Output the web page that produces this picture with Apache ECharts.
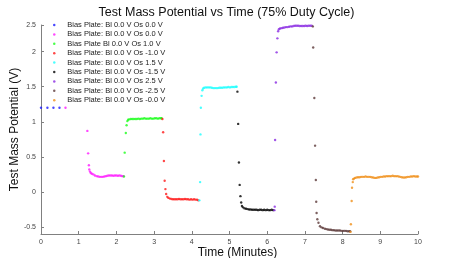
<!DOCTYPE html>
<html>
<head>
<meta charset="utf-8">
<script src="https://cdn.jsdelivr.net/npm/echarts@6/dist/echarts.min.js"></script>
<style>html,body{margin:0;padding:0;background:#fff}#c{width:453px;height:258px}</style>
</head>
<body>
<div id="c"></div>
<script>
var seriesNames = [
  'Bias Plate: Bl 0.0 V Os 0.0 V',
  'Bias Plate: Bl 0.0 V Os 0.0 V ',
  'Bias Plate Bl 0.0 V Os 1.0 V',
  'Bias Plate: Bl 0.0 V Os -1.0 V',
  'Bias Plate: Bl 0.0 V Os 1.5 V',
  'Bias Plate: Bl 0.0 V Os -1.5 V',
  'Bias Plate: Bl 0.0 V Os 2.5 V',
  'Bias Plate: Bl 0.0 V Os -2.5 V',
  'Bias Plate: Bl 0.0 V Os -0.0 V'
];
var seriesColors = ['#1a1aff','#ff1aff','#1aff1a','#ff1a1a','#1affff','#000000','#8a2be2','#5c3a3a','#f0901a'];

var xTicks = [0,1,2,3,4,5,6,7,8,9,10];
var yTickValues = [-0.5,0,0.5,1,1.5,2,2.38];
var yTickLabels = ['-0.5','0','0.5','1','1.5','2','2.5'];

var blueData = [[0.0,1.2],[0.17,1.2],[0.33,1.2],[0.49,1.2]];
var magentaData = [[0.65,1.2],[1.23,0.87],[1.25,0.55],[1.27,0.38],[1.28,0.32],[1.30,0.29],[1.32,0.27],[1.35,0.26],[1.39,0.25],[1.43,0.235],[1.48,0.225],[1.52,0.22],[1.56,0.215],[1.60,0.215],[1.64,0.215],[1.68,0.22],[1.72,0.225],[1.76,0.23],[1.80,0.235],[1.84,0.235],[1.88,0.235],[1.92,0.23],[1.96,0.235],[2.00,0.235],[2.04,0.23],[2.08,0.235],[2.12,0.23],[2.16,0.225],[2.19,0.225]];
var greenData = [[2.20,0.22],[2.22,0.56],[2.25,0.84],[2.27,0.95],[2.29,1.01],[2.31,1.03],[2.34,1.035],[2.38,1.04],[2.42,1.04],[2.46,1.04],[2.50,1.04],[2.54,1.04],[2.58,1.045],[2.62,1.04],[2.66,1.045],[2.70,1.045],[2.74,1.05],[2.78,1.045],[2.82,1.045],[2.86,1.045],[2.90,1.05],[2.94,1.045],[2.98,1.045],[3.02,1.05],[3.06,1.05],[3.10,1.045],[3.14,1.05],[3.18,1.05],[3.20,1.05]];
var redData = [[3.22,1.04],[3.24,0.85],[3.26,0.44],[3.28,0.16],[3.30,0.04],[3.32,-0.03],[3.35,-0.07],[3.38,-0.085],[3.42,-0.095],[3.46,-0.10],[3.50,-0.105],[3.54,-0.105],[3.58,-0.105],[3.62,-0.105],[3.66,-0.10],[3.70,-0.105],[3.74,-0.105],[3.78,-0.105],[3.82,-0.10],[3.86,-0.105],[3.90,-0.105],[3.94,-0.11],[3.98,-0.105],[4.02,-0.11],[4.06,-0.105],[4.10,-0.11],[4.14,-0.11],[4.17,-0.12]];
var cyanData = [[4.20,-0.12],[4.22,0.14],[4.23,0.82],[4.24,1.2],[4.26,1.37],[4.28,1.45],[4.30,1.475],[4.33,1.485],[4.37,1.49],[4.41,1.49],[4.45,1.49],[4.49,1.49],[4.53,1.485],[4.57,1.48],[4.61,1.48],[4.65,1.48],[4.69,1.48],[4.73,1.485],[4.77,1.485],[4.81,1.485],[4.85,1.49],[4.89,1.49],[4.93,1.49],[4.97,1.495],[5.01,1.49],[5.05,1.495],[5.09,1.495],[5.13,1.495],[5.17,1.5],[5.19,1.5]];
var blackData = [[5.21,1.43],[5.23,0.97],[5.25,0.42],[5.27,0.10],[5.29,-0.06],[5.31,-0.15],[5.33,-0.20],[5.36,-0.22],[5.40,-0.235],[5.44,-0.24],[5.48,-0.245],[5.52,-0.25],[5.56,-0.25],[5.60,-0.255],[5.64,-0.255],[5.68,-0.255],[5.72,-0.255],[5.76,-0.26],[5.80,-0.255],[5.84,-0.255],[5.88,-0.26],[5.92,-0.255],[5.96,-0.26],[6.00,-0.255],[6.04,-0.26],[6.08,-0.26],[6.12,-0.255],[6.16,-0.26]];
var purpleData = [[6.19,-0.26],[6.20,-0.21],[6.21,0.74],[6.23,1.56],[6.25,1.99],[6.27,2.19],[6.29,2.29],[6.31,2.32],[6.34,2.33],[6.38,2.335],[6.42,2.34],[6.46,2.345],[6.50,2.35],[6.54,2.35],[6.58,2.355],[6.62,2.36],[6.66,2.36],[6.70,2.365],[6.74,2.37],[6.78,2.37],[6.82,2.37],[6.86,2.365],[6.90,2.365],[6.94,2.365],[6.98,2.365],[7.02,2.37],[7.06,2.365],[7.10,2.37],[7.14,2.37],[7.18,2.37]];
var brownData = [[7.21,2.36],[7.22,2.06],[7.25,1.34],[7.27,0.66],[7.29,0.17],[7.30,-0.14],[7.31,-0.30],[7.33,-0.39],[7.36,-0.44],[7.40,-0.49],[7.44,-0.505],[7.48,-0.515],[7.53,-0.525],[7.57,-0.53],[7.61,-0.535],[7.65,-0.54],[7.69,-0.54],[7.73,-0.545],[7.77,-0.545],[7.81,-0.55],[7.85,-0.55],[7.89,-0.55],[7.93,-0.55],[7.97,-0.555],[8.01,-0.555],[8.05,-0.555],[8.09,-0.555],[8.13,-0.56],[8.17,-0.56],[8.20,-0.56]];
var orangeData = [[8.21,-0.57],[8.22,-0.46],[8.24,-0.13],[8.25,0.06],[8.27,0.14],[8.28,0.18],[8.30,0.19],[8.33,0.20],[8.37,0.205],[8.41,0.21],[8.45,0.21],[8.49,0.215],[8.53,0.215],[8.57,0.215],[8.61,0.22],[8.65,0.215],[8.69,0.215],[8.73,0.215],[8.77,0.21],[8.81,0.205],[8.85,0.2],[8.89,0.2],[8.93,0.205],[8.97,0.21],[9.01,0.215],[9.05,0.215],[9.09,0.22],[9.13,0.22],[9.17,0.225],[9.21,0.225],[9.25,0.225],[9.29,0.225],[9.33,0.23],[9.37,0.225],[9.41,0.225],[9.45,0.225],[9.49,0.22],[9.53,0.215],[9.57,0.21],[9.61,0.205],[9.65,0.205],[9.69,0.21],[9.73,0.215],[9.77,0.215],[9.81,0.22],[9.85,0.22],[9.89,0.225],[9.93,0.22],[9.97,0.22],[10.0,0.22]];

var allData = [blueData, magentaData, greenData, redData, cyanData, blackData, purpleData, brownData, orangeData];

var FONT = 'Liberation Sans';
var chart = echarts.init(document.getElementById('c'), null, {renderer: 'canvas'});
var series = allData.map(function (d, i) {
  return {
    name: seriesNames[i],
    type: 'scatter',
    data: d,
    symbol: 'circle',
    symbolSize: 2.4,
    itemStyle: {color: seriesColors[i]},
    animation: false
  };
});
chart.setOption({
  animation: false,
  title: {
    text: 'Test Mass Potential vs Time (75% Duty Cycle)',
    left: 'center',
    top: 1,
    textStyle: {fontFamily: FONT, fontSize: 12.5, fontWeight: 'normal', color: '#111'}
  },
  legend: {
    orient: 'vertical',
    left: 53,
    top: 20.5,
    icon: 'circle',
    itemWidth: 6,
    itemHeight: 2.5,
    itemGap: 0.4,
    padding: 0,
    textStyle: {fontFamily: FONT, fontSize: 7.5, color: '#222', lineHeight: 9, padding: [0, 0, 0, 5]},
    data: seriesNames
  },
  grid: {left: 41, right: 35, top: 25, bottom: 24, containLabel: false, outerBoundsMode: 'none'},
  xAxis: {
    type: 'value',
    min: 0, max: 10, interval: 1,
    name: 'Time (Minutes)',
    nameLocation: 'middle',
    nameGap: 13,
    nameMoveOverlap: false,
    nameTextStyle: {fontFamily: FONT, fontSize: 12, color: '#111', padding: [0, 0, 0, 16]},
    axisLine: {onZero: false, lineStyle: {color: '#808080', width: 1}},
    axisTick: {inside: true, length: 3, lineStyle: {color: '#808080'}},
    axisLabel: {fontFamily: FONT, fontSize: 7, color: '#444', margin: 5,
      formatter: function (v) { return xTicks.indexOf(v) >= 0 ? String(v) : ''; }},
    splitLine: {show: false}
  },
  yAxis: {
    type: 'value',
    min: -0.6, max: 2.38,
    name: 'Test Mass Potential (V)',
    nameLocation: 'middle',
    nameGap: 20,
    nameMoveOverlap: false,
    nameTextStyle: {fontFamily: FONT, fontSize: 12, color: '#111'},
    axisLine: {show: true, onZero: false, lineStyle: {color: '#808080', width: 1}},
    axisTick: {show: true, inside: true, length: 3, lineStyle: {color: '#808080'}, customValues: yTickValues},
    axisLabel: {fontFamily: FONT, fontSize: 7, color: '#444', margin: 5, customValues: yTickValues,
      formatter: function (v) {
        var k = yTickValues.indexOf(v);
        return k >= 0 ? yTickLabels[k] : '';
      }},
    splitLine: {show: false}
  },
  series: series
});
</script>
</body>
</html>
